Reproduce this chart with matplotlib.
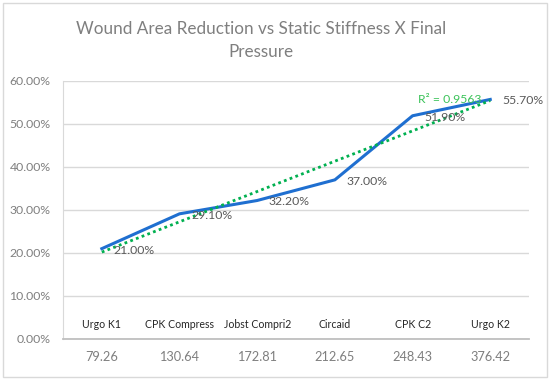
import numpy as np
import matplotlib
matplotlib.use('Agg')
import matplotlib.pyplot as plt
from matplotlib.patches import Rectangle

plt.rcParams['font.family'] = ['Lato', 'DejaVu Sans']

# данные
products = ['Urgo K1', 'CPK Compress', 'Jobst Compri2', 'Circaid', 'CPK C2', 'Urgo K2']
stiffness = ['79.26', '130.64', '172.81', '212.65', '248.43', '376.42']
reduction = [0.21, 0.291, 0.322, 0.37, 0.519, 0.557]
r2_text = 'R² = 0.9563'

fig = plt.figure(figsize=(5.5, 3.8), dpi=100)
fig.patches.append(Rectangle((0.006, 0.008), 0.988, 0.984, transform=fig.transFigure,
                             fill=False, edgecolor='#D9D9D9', linewidth=1))

ax = fig.add_axes([0.1145, 0.108, 0.8475, 0.679])
x = np.arange(1, len(products) + 1)

ax.plot(x, reduction, color='#1F6FD0', linewidth=2.2, zorder=3)

# линейный тренд
k, b = np.polyfit(x, reduction, 1)
ax.plot(x, k * x + b, color='#00B050', linestyle=(0, (1, 1.2)), linewidth=2, zorder=4)
ax.text(5.07, 0.557, r2_text, color='#3CC35A', fontsize=8.8, va='center', ha='left')

# подписи данных
for xi, v in zip(x, reduction):
    ax.annotate(f'{v * 100:.2f}%', (xi, v), xytext=(8.5, -1), textcoords='offset points',
                fontsize=8.8, color='#595959', va='center', ha='left', zorder=5)

# названия изделий внутри области построения
for xi, name in zip(x, products):
    ax.text(xi, 0.033, name, ha='center', va='center', fontsize=7.6, color='#262626')

ax.set_xlim(0.5, 6.5)
ax.set_ylim(0, 0.6)
ax.set_yticks(np.arange(0, 0.61, 0.1))
ax.set_yticklabels([f'{t * 100:.2f}%' for t in np.arange(0, 0.61, 0.1)])
ax.set_xticks(x)
ax.set_xticklabels(stiffness)
ax.tick_params(axis='both', length=0, colors='#7F7F7F', labelsize=8.8)
ax.tick_params(axis='x', pad=9, labelsize=9.2)
ax.tick_params(axis='y', pad=9)
ax.grid(axis='y', color='#D9D9D9', linewidth=1)
ax.set_axisbelow(True)
for s in ['top', 'right']:
    ax.spines[s].set_visible(False)
ax.spines['left'].set_color('#D9D9D9')
ax.spines['bottom'].set_color('#BFBFBF')
ax.spines['bottom'].set_linewidth(1.3)

fig.text(0.475, 0.893, 'Wound Area Reduction vs Static Stiffness X Final\nPressure',
         ha='center', va='center', fontsize=12.3, color='#7F7F7F', linespacing=1.5)

fig.savefig('out.png', dpi=100)
